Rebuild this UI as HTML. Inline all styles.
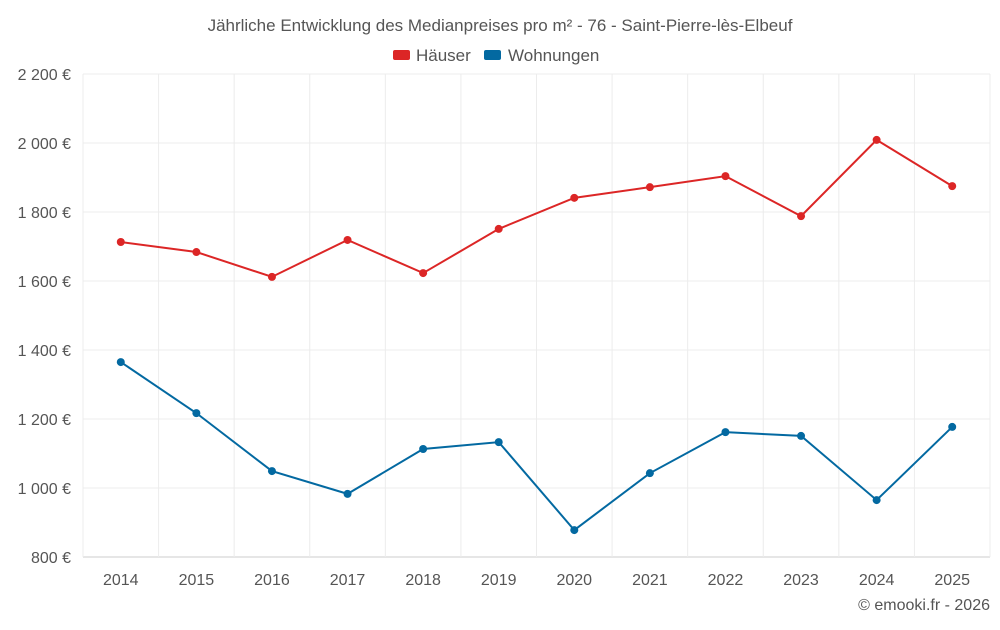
<!DOCTYPE html>
<html><head><meta charset="utf-8"><style>
body{margin:0;background:#fff;font-family:"Liberation Sans",sans-serif}
svg text{font-family:"Liberation Sans",sans-serif}
</style></head><body>
<svg id="chart" width="1000" height="625" viewBox="0 0 1000 625">
<text x="500" y="31" text-anchor="middle" font-size="17" fill="#555">Jährliche Entwicklung des Medianpreises pro m² - 76 - Saint-Pierre-lès-Elbeuf</text>
<g>
<g><rect x="393" y="50" width="17" height="10" rx="2" fill="#dc2626"/><text x="416" y="61" font-size="17" fill="#555">Häuser</text></g>
<g><rect x="484" y="50" width="17" height="10" rx="2" fill="#0369a1"/><text x="508" y="61" font-size="17" fill="#555">Wohnungen</text></g>
</g>
<g id="grid"></g>
<g id="axes"></g>
<g id="series"></g>
<text x="990" y="610" text-anchor="end" font-size="16" fill="#555">© emooki.fr - 2026</text>
</svg>
<script>
const years=["2014","2015","2016","2017","2018","2019","2020","2021","2022","2023","2024","2025"];
const haeuser=[1713,1684,1612,1719,1623,1751,1841,1872,1904,1788,2009,1875];
const wohnungen=[1365,1217,1049,983,1113,1133,878,1043,1162,1151,965,1177];
const yTicks=[800,1000,1200,1400,1600,1800,2000,2200];
const yTickLabels=["800 €","1 000 €","1 200 €","1 400 €","1 600 €","1 800 €","2 000 €","2 200 €"];
const NS="http://www.w3.org/2000/svg";
const L=83,R=990,T=74,B=557,ymin=800,ymax=2200;
const step=(R-L)/years.length;
const x=i=>L+step*(i+0.5);
const y=v=>B-(v-ymin)/(ymax-ymin)*(B-T);
function mk(tag,attrs,parent){const e=document.createElementNS(NS,tag);for(const k in attrs)e.setAttribute(k,attrs[k]);parent.appendChild(e);return e;}
const grid=document.getElementById('grid'),axes=document.getElementById('axes'),series=document.getElementById('series');
yTicks.forEach((t,i)=>{
 const l=mk('line',{x1:L,x2:R,y1:y(t),y2:y(t),stroke:i==0?'#ccc':'#ececec'},grid);
 
 
 const tx=mk('text',{x:71,y:y(t)+6,'text-anchor':'end','font-size':16,fill:'#555'},axes);
 tx.textContent=yTickLabels[i];
 
 
});
for(let i=0;i<=years.length;i++){
 const l=mk('line',{x1:L+step*i,x2:L+step*i,y1:T,y2:B,stroke:'#ececec'},grid);
 
 
}
years.forEach((yr,i)=>{
 const tx=mk('text',{x:x(i),y:585,'text-anchor':'middle','font-size':16,fill:'#555'},axes);
 tx.textContent=yr;
 
 
});
function draw(vals,color,name){
 const p=mk('polyline',{points:vals.map((v,i)=>x(i)+','+y(v)).join(' '),fill:'none',stroke:color,'stroke-width':2},series);
 
 
 vals.forEach((v,i)=>{
  const c=mk('circle',{cx:x(i),cy:y(v),r:4,fill:color},series);
  
  
 });
}
draw(haeuser,'#dc2626','haeuser');
draw(wohnungen,'#0369a1','wohnungen');
</script>
</body></html>
